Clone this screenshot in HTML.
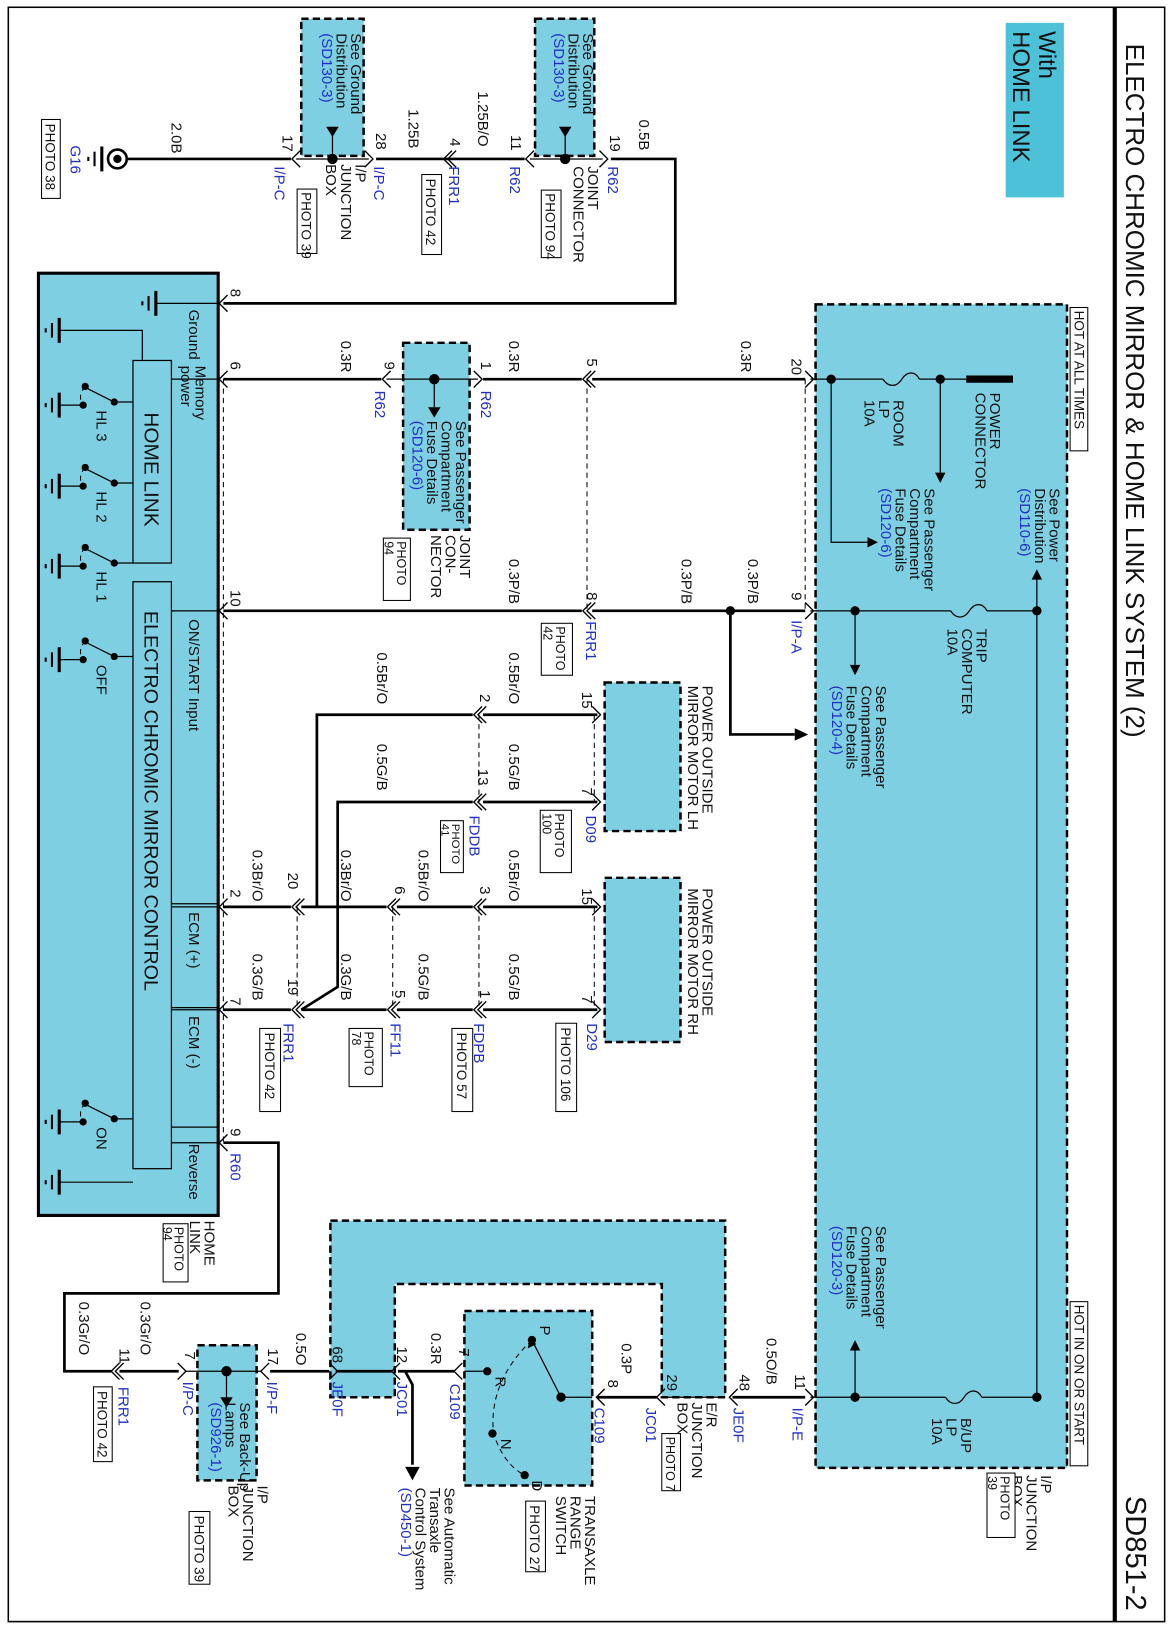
<!DOCTYPE html>
<html><head><meta charset="utf-8"><style>
html,body{margin:0;padding:0;background:#fff}
svg{display:block}
text{font-family:"Liberation Sans",sans-serif;font-size:14.5px;fill:#111}
.b{fill:#1f2fc8}
.p{font-size:13px}
.p2{font-size:12px}
.w{stroke:#000;stroke-width:2.6;fill:none}
.t{stroke:#000;stroke-width:1.2;fill:none}
.d{stroke:#000;stroke-width:1;stroke-dasharray:5 4;fill:none}
.cy{fill:#7fcfe2}
.cyd{fill:#7fcfe2;stroke:#000;stroke-width:2.4;stroke-dasharray:7 4}
.bx{fill:#fff;stroke:#000;stroke-width:1}
</style></head><body>
<svg width="1174" height="1632" viewBox="0 0 1130 1571" preserveAspectRatio="none" xmlns="http://www.w3.org/2000/svg">
<defs>
<path id="cl" d="M8,-8 L0,0 L8,8" stroke="#000" stroke-width="1.3" fill="none"/>
<path id="cr" d="M-8,-8 L0,0 L-8,8" stroke="#000" stroke-width="1.3" fill="none"/>
<path id="dl" d="M8,-8 L0,0 L8,8 M12,-8 L4,0 L12,8" stroke="#000" stroke-width="1.3" fill="none"/>
<g id="gnd" stroke="#000" fill="none"><path d="M0,-12 V12" stroke-width="3"/><path d="M-7,-7 V7" stroke-width="2"/><path d="M-13,-2 V2" stroke-width="2"/></g>
</defs>
<rect x="8" y="7" width="1113" height="1554" fill="none" stroke="#000" stroke-width="1.5"/>
<line x1="1073" y1="7" x2="1073" y2="1561" stroke="#000" stroke-width="4"/>
<text transform="translate(1084,42) rotate(90)" style="font-size:25px">ELECTRO CHROMIC MIRROR &amp; HOME LINK SYSTEM (2)</text>
<text transform="translate(1084,1440) rotate(90)" style="font-size:28px">SD851-2</text>
<rect x="968" y="22" width="56" height="168" fill="#4cc1d8"/>
<text transform="translate(1000,30) rotate(90)" style="font-size:23px">With<tspan x="0" dy="25">HOME LINK</tspan></text>

<path d="M318,1175 H698 V1345 H637 V1236 H380 V1345 H318 Z" class="cyd"/>
<rect class="cyd" x="447" y="1262" width="123" height="168"/>
<rect class="cyd" x="190" y="1295" width="57" height="130"/>

<rect class="cyd" x="785" y="293" width="242" height="1120"/>
<rect class="bx" x="1030" y="296" width="17" height="138"/><text transform="translate(1034,299) rotate(90)" style="font-size:13px">HOT AT ALL TIMES</text>
<rect class="bx" x="1030" y="1253" width="17" height="158"/><text transform="translate(1034,1256) rotate(90)" style="font-size:13px">HOT IN ON OR START</text>
<text transform="translate(1002,1420) rotate(90)">I/P<tspan x="0" dy="14">JUNCTION</tspan><tspan x="0" dy="14">BOX</tspan></text>
<rect class="bx" x="950" y="1418" width="27" height="62"/><text class="p2" transform="translate(963,1421) rotate(90)">PHOTO<tspan x="0" dy="12">39</tspan></text>

<line x1="930" y1="365" x2="975" y2="365" stroke="#000" stroke-width="7"/>
<text transform="translate(953,378) rotate(90)">POWER<tspan x="0" dy="14">CONNECTOR</tspan></text>
<path class="t" d="M998,555 V1345"/><path d="M998,548 l-5,10 h10z"/>
<circle cx="998" cy="588" r="4.5"/><circle cx="998" cy="1345" r="4.5"/>
<text transform="translate(1010,470) rotate(90)">See Power<tspan x="0" dy="14">Distribution</tspan><tspan x="0" dy="14" class="b">(SD110-6)</tspan></text>

<path class="t" d="M930,365 H885 M850,365 H780"/>
<path class="t" d="M885,365 c-4,-8 -12,-8 -17,0 c-5,8 -13,8 -18,0"/>
<text transform="translate(860,385) rotate(90)">ROOM<tspan x="0" dy="14">LP</tspan><tspan x="0" dy="14">10A</tspan></text>
<circle cx="905" cy="365" r="4.5"/><path class="t" d="M905,365 V455"/><path d="M905,465 l-5,-10 h10z"/>
<circle cx="800" cy="365" r="4.5"/><path class="t" d="M800,365 V522 H835"/><path d="M845,522 l-10,-5 v10z"/>
<text transform="translate(890,470) rotate(90)">See Passenger<tspan x="0" dy="14">Compartment</tspan><tspan x="0" dy="14">Fuse Details</tspan><tspan x="0" dy="14" class="b">(SD120-6)</tspan></text>

<path class="t" d="M998,588 H950 M915,588 H780"/>
<path class="t" d="M950,588 c-4,-8 -12,-8 -17,0 c-5,8 -13,8 -18,0"/>
<text transform="translate(940,605) rotate(90)">TRIP<tspan x="0" dy="14">COMPUTER</tspan><tspan x="0" dy="14">10A</tspan></text>
<circle cx="823" cy="588" r="4.5"/><path class="t" d="M823,588 V640"/><path d="M823,650 l-5,-10 h10z"/>
<text transform="translate(843,660) rotate(90)">See Passenger<tspan x="0" dy="14">Compartment</tspan><tspan x="0" dy="14">Fuse Details</tspan><tspan x="0" dy="14" class="b">(SD120-4)</tspan></text>

<path class="t" d="M998,1345 H945 M910,1345 H780"/>
<path class="t" d="M945,1345 c-4,-8 -12,-8 -17,0 c-5,8 -13,8 -18,0"/>
<text transform="translate(925,1365) rotate(90)">B/UP<tspan x="0" dy="14">LP</tspan><tspan x="0" dy="14">10A</tspan></text>
<circle cx="823" cy="1345" r="4.5"/><path class="t" d="M823,1345 V1300"/><path d="M823,1290 l-5,10 h10z"/>
<text transform="translate(843,1180) rotate(90)">See Passenger<tspan x="0" dy="14">Compartment</tspan><tspan x="0" dy="14">Fuse Details</tspan><tspan x="0" dy="14" class="b">(SD120-3)</tspan></text>

<rect class="cyd" x="290" y="18" width="60" height="132"/>
<rect class="cyd" x="515" y="18" width="57" height="132"/>
<path class="w" d="M122,153 H280 M362,153 H505 M588,153 H650 V292 H215"/>
<path class="t" d="M285,153 H355 M510,153 H580"/>
<circle cx="320" cy="153" r="5"/><path class="t" d="M320,153 V130"/><path d="M320,132 l-6,-10 h12z"/>
<circle cx="544" cy="153" r="5"/><path class="t" d="M544,153 V130"/><path d="M544,132 l-6,-10 h12z"/>
<text transform="translate(338,32) rotate(90)">See Ground<tspan x="0" dy="14">Distribution</tspan><tspan x="0" dy="14" class="b">(SD130-3)</tspan></text>
<text transform="translate(561,32) rotate(90)">See Ground<tspan x="0" dy="14">Distribution</tspan><tspan x="0" dy="14" class="b">(SD130-3)</tspan></text>
<circle cx="113" cy="153" r="9" fill="none" stroke="#000" stroke-width="2.5"/><circle cx="113" cy="153" r="4"/>
<use href="#gnd" x="98" y="153"/>
<text class="b" transform="translate(68,140) rotate(90)">G16</text>
<rect class="bx" x="40" y="115" width="18" height="76"/><text class="p" transform="translate(44,119) rotate(90)">PHOTO 38</text>
<use href="#cl" x="281" y="153"/><use href="#cr" x="359" y="153"/><use href="#dl" x="427" y="153"/>
<use href="#cl" x="506" y="153"/><use href="#cr" x="585" y="153"/>
<text transform="translate(165,118) rotate(90)">2.0B</text>
<text transform="translate(272,130) rotate(90)">17</text>
<text transform="translate(362,128) rotate(90)">28</text>
<text transform="translate(393,105) rotate(90)">1.25B</text>
<text transform="translate(433,133) rotate(90)">4</text>
<text transform="translate(460,88) rotate(90)">1.25B/O</text>
<text transform="translate(492,130) rotate(90)">11</text>
<text transform="translate(587,130) rotate(90)">19</text>
<text transform="translate(615,115) rotate(90)">0.5B</text>
<text class="b" transform="translate(264,160) rotate(90)">I/P-C</text>
<text class="b" transform="translate(360,160) rotate(90)">I/P-C</text>
<text class="b" transform="translate(432,160) rotate(90)">FRR1</text>
<text class="b" transform="translate(491,160) rotate(90)">R62</text>
<text class="b" transform="translate(585,160) rotate(90)">R62</text>
<text transform="translate(342,158) rotate(90)">I/P<tspan x="0" dy="14">JUNCTION</tspan><tspan x="0" dy="14">BOX</tspan></text>
<rect class="bx" x="286" y="182" width="19" height="62"/><text class="p" transform="translate(290,185) rotate(90)">PHOTO 39</text>
<rect class="bx" x="406" y="168" width="19" height="77"/><text class="p" transform="translate(410,172) rotate(90)">PHOTO 42</text>
<text transform="translate(566,160) rotate(90)">JOINT<tspan x="0" dy="14">CONNECTOR</tspan></text>
<rect class="bx" x="521" y="183" width="19" height="65"/><text class="p" transform="translate(525,186) rotate(90)">PHOTO 94</text>

<path class="w" d="M775,365 H570 M560,365 H465 M367,365 H215"/>
<rect class="cyd" x="388" y="330" width="64" height="180"/>
<path class="t" d="M372,365 H460"/>
<circle cx="418" cy="365" r="5"/><path class="t" d="M418,365 V392"/><path d="M418,402 l-6,-10 h12z"/>
<text transform="translate(439,405) rotate(90)">See Passenger<tspan x="0" dy="14">Compartment</tspan><tspan x="0" dy="14">Fuse Details</tspan><tspan x="0" dy="14" class="b">(SD120-6)</tspan></text>
<use href="#cr" x="783" y="365"/><use href="#dl" x="561" y="365"/>
<use href="#cr" x="464" y="365"/><use href="#cl" x="368" y="365"/><use href="#cl" x="211" y="365"/><use href="#cl" x="211" y="292"/>
<text transform="translate(762,345) rotate(90)">20</text>
<text transform="translate(713,328) rotate(90)">0.3R</text>
<text transform="translate(565,345) rotate(90)">5</text>
<text transform="translate(490,328) rotate(90)">0.3R</text>
<text transform="translate(463,348) rotate(90)">1</text>
<text transform="translate(370,348) rotate(90)">9</text>
<text transform="translate(328,328) rotate(90)">0.3R</text>
<text transform="translate(222,348) rotate(90)">6</text>
<text transform="translate(222,278) rotate(90)">8</text>
<text class="b" transform="translate(463,376) rotate(90)">R62</text>
<text class="b" transform="translate(361,376) rotate(90)">R62</text>
<text transform="translate(443,515) rotate(90)">JOINT<tspan x="0" dy="14">CON-</tspan><tspan x="0" dy="14">NECTOR</tspan></text>
<rect class="bx" x="369" y="518" width="26" height="60"/><text class="p2" transform="translate(382,521) rotate(90)">PHOTO<tspan x="0" dy="12">94</tspan></text>
<path class="d" d="M775,365 V588 M565,365 V588"/>

<path class="w" d="M775,588 H570 M560,588 H215"/>
<circle cx="703" cy="588" r="4.5"/><path class="w" d="M703,588 V707 H765"/><path d="M778,707 l-13,-6 v12z"/>
<use href="#cr" x="783" y="588"/><use href="#dl" x="561" y="588"/><use href="#cl" x="211" y="588"/>
<text transform="translate(762,570) rotate(90)">9</text>
<text transform="translate(720,538) rotate(90)">0.3P/B</text>
<text transform="translate(656,538) rotate(90)">0.3P/B</text>
<text transform="translate(565,570) rotate(90)">8</text>
<text transform="translate(490,538) rotate(90)">0.3P/B</text>
<text transform="translate(222,568) rotate(90)">10</text>
<text class="b" transform="translate(762,597) rotate(90)">I/P-A</text>
<text class="b" transform="translate(564,598) rotate(90)">FRR1</text>
<rect class="bx" x="521" y="600" width="30" height="50"/><text class="p2" transform="translate(535,603) rotate(90)">PHOTO<tspan x="0" dy="12">42</tspan></text>

<rect class="cyd" x="582" y="657" width="73" height="143"/>
<text transform="translate(676,660) rotate(90)">POWER OUTSIDE<tspan x="0" dy="14">MIRROR MOTOR LH</tspan></text>
<path class="w" d="M575,688 H465 M455,688 H305 V873 M575,772 H465 M455,772 H325 V950 L290,972"/>
<use href="#cr" x="578" y="688"/><use href="#cr" x="578" y="772"/><use href="#dl" x="456" y="688"/><use href="#dl" x="456" y="772"/>
<path class="d" d="M572,688 V772 M461,688 V772"/>
<text transform="translate(560,666) rotate(90)">15</text>
<text transform="translate(490,628) rotate(90)">0.5Br/O</text>
<text transform="translate(462,668) rotate(90)">2</text>
<text transform="translate(363,628) rotate(90)">0.5Br/O</text>
<text transform="translate(560,758) rotate(90)">7</text>
<text transform="translate(490,716) rotate(90)">0.5G/B</text>
<text transform="translate(460,740) rotate(90)">13</text>
<text transform="translate(363,716) rotate(90)">0.5G/B</text>
<text class="b" transform="translate(564,785) rotate(90)">D09</text>
<rect class="bx" x="520" y="780" width="30" height="60"/><text class="p2" transform="translate(534,783) rotate(90)">PHOTO<tspan x="0" dy="12">100</tspan></text>
<text class="b" transform="translate(452,785) rotate(90)">FDDB</text>
<rect class="bx" x="424" y="790" width="22" height="50"/><text transform="translate(435,793) rotate(90)" style="font-size:11px">PHOTO<tspan x="0" dy="10">41</tspan></text>

<rect class="cyd" x="582" y="845" width="73" height="158"/>
<text transform="translate(676,855) rotate(90)">POWER OUTSIDE<tspan x="0" dy="14">MIRROR MOTOR RH</tspan></text>
<path class="w" d="M575,873 H465 M455,873 H382 M372,873 H290 M280,873 H215 M575,972 H465 M455,972 H382 M372,972 H290 M280,972 H215"/>
<use href="#cr" x="578" y="873"/><use href="#cr" x="578" y="972"/>
<use href="#dl" x="456" y="873"/><use href="#dl" x="373" y="873"/><use href="#dl" x="281" y="873"/><use href="#cl" x="211" y="873"/>
<use href="#dl" x="456" y="972"/><use href="#dl" x="373" y="972"/><use href="#dl" x="281" y="972"/><use href="#cl" x="211" y="972"/>
<path class="d" d="M572,873 V972 M461,873 V972 M378,873 V972 M286,873 V972 M215,365 V1100"/>
<text transform="translate(560,855) rotate(90)">15</text>
<text transform="translate(490,818) rotate(90)">0.5Br/O</text>
<text transform="translate(462,853) rotate(90)">3</text>
<text transform="translate(403,818) rotate(90)">0.5Br/O</text>
<text transform="translate(380,853) rotate(90)">6</text>
<text transform="translate(328,818) rotate(90)">0.3Br/O</text>
<text transform="translate(277,840) rotate(90)">20</text>
<text transform="translate(243,818) rotate(90)">0.3Br/O</text>
<text transform="translate(222,856) rotate(90)">2</text>
<text transform="translate(560,958) rotate(90)">7</text>
<text transform="translate(490,918) rotate(90)">0.5G/B</text>
<text transform="translate(462,953) rotate(90)">1</text>
<text transform="translate(403,918) rotate(90)">0.5G/B</text>
<text transform="translate(380,953) rotate(90)">5</text>
<text transform="translate(328,918) rotate(90)">0.3G/B</text>
<text transform="translate(277,942) rotate(90)">19</text>
<text transform="translate(243,918) rotate(90)">0.3G/B</text>
<text transform="translate(222,960) rotate(90)">7</text>
<text class="b" transform="translate(565,985) rotate(90)">D29</text>
<rect class="bx" x="535" y="985" width="20" height="85"/><text class="p" transform="translate(540,989) rotate(90)">PHOTO 106</text>
<text class="b" transform="translate(456,985) rotate(90)">FDPB</text>
<rect class="bx" x="435" y="990" width="20" height="80"/><text class="p" transform="translate(440,994) rotate(90)">PHOTO 57</text>
<text class="b" transform="translate(376,985) rotate(90)">FF11</text>
<rect class="bx" x="336" y="990" width="32" height="56"/><text class="p2" transform="translate(351,993) rotate(90)">PHOTO<tspan x="0" dy="12">78</tspan></text>
<text class="b" transform="translate(273,985) rotate(90)">FRR1</text>
<rect class="bx" x="250" y="990" width="20" height="80"/><text class="p" transform="translate(255,994) rotate(90)">PHOTO 42</text>

<rect x="37" y="263" width="173" height="907" class="cy" stroke="#000" stroke-width="3"/>
<path class="t" d="M210,292 H150 M210,365 H165 M210,588 H165 M210,873 H165 M210,972 H165 M210,1100 H165 M165,870 H210 M165,970 H210 M165,1085 H210"/>
<rect x="128" y="347" width="37" height="195" fill="none" stroke="#000" stroke-width="1.2"/>
<rect x="128" y="560" width="37" height="565" fill="none" stroke="#000" stroke-width="1.2"/>
<text transform="translate(139,397) rotate(90)" style="font-size:20px">HOME  LINK</text>
<text transform="translate(139,588) rotate(90)" style="font-size:19px">ELECTRO CHROMIC MIRROR CONTROL</text>
<text transform="translate(182,298) rotate(90)">Ground</text>
<text transform="translate(188,352) rotate(90)">Memory<tspan x="0" dy="14">power</tspan></text>
<text transform="translate(182,596) rotate(90)">ON/START Input</text>
<text transform="translate(182,878) rotate(90)">ECM (+)</text>
<text transform="translate(182,978) rotate(90)">ECM (-)</text>
<text transform="translate(182,1101) rotate(90)">Reverse</text>
<use href="#gnd" x="150" y="292"/>
<path class="t" d="M137,347 V318 H57"/><use href="#gnd" x="57" y="318"/>
<g id="sw"><path class="t" d="M128,387 H110"/><circle cx="110" cy="387" r="3.5"/><path class="t" d="M110,387 L82,373"/><circle cx="82" cy="372" r="3.5"/><circle cx="80" cy="390" r="3.5"/><path class="d" d="M82,372 Q74,381 80,390"/><path class="t" d="M80,390 H57"/><use href="#gnd" x="57" y="390"/></g>
<use href="#sw" y="78"/><use href="#sw" y="155"/>
<text transform="translate(93,395) rotate(90)">HL 3</text>
<text transform="translate(93,473) rotate(90)">HL 2</text>
<text transform="translate(93,550) rotate(90)">HL 1</text>
<use href="#sw" y="245"/><text transform="translate(93,640) rotate(90)">OFF</text>
<use href="#sw" y="690"/><text transform="translate(93,1085) rotate(90)">ON</text>
<path class="t" d="M128,1138 H57"/><use href="#gnd" x="57" y="1138"/>

<path class="w" d="M215,1100 H268 V1245 H62 V1320 H107 M115,1320 H172 M260,1320 H317 M325,1320 H377 M383,1320 H437"/>
<path class="t" d="M178,1320 H252 M323,1320 H377 M642,1345 H697"/>
<use href="#cl" x="211" y="1100"/><use href="#dl" x="107" y="1320"/>
<use href="#cr" x="179" y="1320"/><use href="#cl" x="251" y="1320"/><use href="#cr" x="325" y="1320"/><use href="#cl" x="377" y="1320"/><use href="#cl" x="437" y="1320"/>
<text transform="translate(222,1086) rotate(90)">9</text>
<text class="b" transform="translate(222,1110) rotate(90)">R60</text>
<text transform="translate(197,1175) rotate(90)">HOME<tspan x="0" dy="14">LINK</tspan></text>
<rect class="bx" x="157" y="1178" width="24" height="56"/><text class="p2" transform="translate(168,1181) rotate(90)">PHOTO<tspan x="0" dy="11">94</tspan></text>
<text transform="translate(135,1253) rotate(90)">0.3Gr/O</text>
<text transform="translate(76,1253) rotate(90)">0.3Gr/O</text>
<text transform="translate(115,1298) rotate(90)">11</text>
<text class="b" transform="translate(114,1335) rotate(90)">FRR1</text>
<rect class="bx" x="90" y="1335" width="18" height="72"/><text class="p" transform="translate(94,1339) rotate(90)">PHOTO 42</text>
<circle cx="218" cy="1320" r="5"/><path class="t" d="M218,1320 V1345"/><path d="M218,1355 l-6,-10 h12z"/>
<text transform="translate(231,1350) rotate(90)">See Back-Up<tspan x="0" dy="14">Lamps</tspan><tspan x="0" dy="14" class="b">(SD926-1)</tspan></text>
<text transform="translate(248,1430) rotate(90)">I/P<tspan x="0" dy="14">JUNCTION</tspan><tspan x="0" dy="14">BOX</tspan></text>
<rect class="bx" x="182" y="1455" width="20" height="70"/><text class="p" transform="translate(187,1459) rotate(90)">PHOTO 39</text>
<text transform="translate(178,1301) rotate(90)">7</text>
<text class="b" transform="translate(176,1330) rotate(90)">I/P-C</text>
<text transform="translate(258,1298) rotate(90)">17</text>
<text class="b" transform="translate(257,1330) rotate(90)">I/P-F</text>
<text transform="translate(285,1283) rotate(90)">0.5O</text>
<text transform="translate(320,1296) rotate(90)">68</text>
<text class="b" transform="translate(320,1330) rotate(90)">JE0F</text>
<text transform="translate(382,1296) rotate(90)">12</text>
<text class="b" transform="translate(382,1330) rotate(90)">JC01</text>
<text transform="translate(415,1283) rotate(90)">0.3R</text>
<text transform="translate(442,1298) rotate(90)">7</text>
<text class="b" transform="translate(433,1332) rotate(90)">C109</text>
<path class="w" d="M390,1320 L397,1333 V1410"/><path d="M397,1425 l-7,-13 h14z"/>
<text transform="translate(428,1432) rotate(90)">See Automatic<tspan x="0" dy="14">Transaxle</tspan><tspan x="0" dy="14">Control System</tspan><tspan x="0" dy="14" class="b">(SD450-1)</tspan></text>

<path class="t" d="M447,1320 H470 M540,1345 H570"/>
<path class="d" d="M512,1290 Q470,1330 475,1380 Q485,1410 505,1420"/>
<circle cx="512" cy="1290" r="4"/><circle cx="469" cy="1320" r="4"/><circle cx="474" cy="1380" r="4"/><circle cx="505" cy="1420" r="4"/><circle cx="540" cy="1345" r="4.5"/>
<path class="t" d="M540,1345 L512,1290"/><path d="M510,1286 l-2,12 l8,-4z"/>
<text transform="translate(520,1276) rotate(90)">P</text>
<text transform="translate(477,1325) rotate(90)">R</text>
<text transform="translate(482,1385) rotate(90)">N</text>
<text transform="translate(512,1425) rotate(90)">D</text>
<path class="w" d="M575,1345 H632 M705,1345 H775"/>
<use href="#cl" x="574" y="1345"/><use href="#cl" x="632" y="1345"/><use href="#cl" x="702" y="1345"/><use href="#cr" x="783" y="1345"/>
<text transform="translate(712,1323) rotate(90)">48</text>
<text class="b" transform="translate(706,1355) rotate(90)">JE0F</text>
<text transform="translate(738,1288) rotate(90)">0.5O/B</text>
<text transform="translate(765,1323) rotate(90)">11</text>
<text class="b" transform="translate(763,1355) rotate(90)">I/P-E</text>
<text transform="translate(642,1323) rotate(90)">29</text>
<text class="b" transform="translate(622,1355) rotate(90)">JC01</text>
<text transform="translate(598,1293) rotate(90)">0.3P</text>
<text transform="translate(585,1328) rotate(90)">8</text>
<text class="b" transform="translate(572,1355) rotate(90)">C109</text>
<text transform="translate(680,1350) rotate(90)">E/R<tspan x="0" dy="14">JUNCTION</tspan><tspan x="0" dy="14">BOX</tspan></text>
<rect class="bx" x="637" y="1380" width="18" height="55"/><text class="p2" transform="translate(641,1383) rotate(90)">PHOTO 7</text>
<text transform="translate(563,1440) rotate(90)">TRANSAXLE<tspan x="0" dy="14">RANGE</tspan><tspan x="0" dy="14">SWITCH</tspan></text>
<rect class="bx" x="506" y="1445" width="19" height="68"/><text class="p" transform="translate(510,1449) rotate(90)">PHOTO 27</text>
</svg>
</body></html>
